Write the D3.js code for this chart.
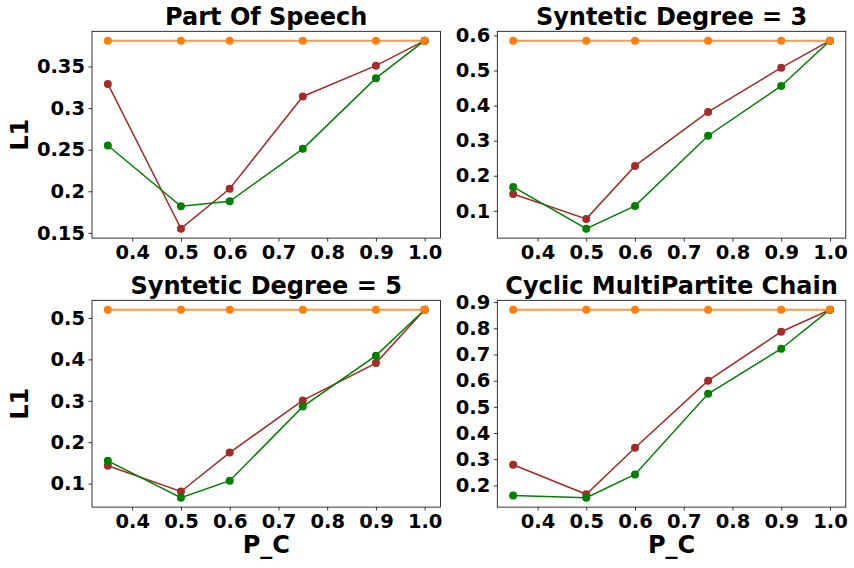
<!DOCTYPE html>
<html>
<head>
<meta charset="utf-8">
<script src="https://cdn.jsdelivr.net/npm/d3@7"></script>
<style>
  body { margin: 0; background: #fff; }
  text { font-family: "DejaVu Sans", sans-serif; font-weight: bold; }
</style>
</head>
<body>
<div id="chart"></div>
<script>
// Data

// Shared x values (P_C)
var pcValues = [0.35, 0.5, 0.6, 0.75, 0.9, 1.0];
var xTickValues = [0.4, 0.5, 0.6, 0.7, 0.8, 0.9, 1.0];
var xTickLabels = ["0.4", "0.5", "0.6", "0.7", "0.8", "0.9", "1.0"];

// Panel titles
var panelTitles = ["Part Of Speech", "Syntetic Degree = 3", "Syntetic Degree = 5", "Cyclic MultiPartite Chain"];

// Series per panel
var brownSeries = [
    [0.329, 0.155, 0.203, 0.314, 0.351, 0.381],
    [0.148, 0.077, 0.228, 0.382, 0.508, 0.585],
    [0.143, 0.081, 0.175, 0.301, 0.391, 0.520],
    [0.279, 0.166, 0.344, 0.600, 0.787, 0.871]
];
var greenSeries = [
    [0.255, 0.182, 0.188, 0.251, 0.336, 0.381],
    [0.168, 0.049, 0.114, 0.314, 0.456, 0.585],
    [0.155, 0.066, 0.107, 0.286, 0.409, 0.520],
    [0.161, 0.153, 0.242, 0.550, 0.722, 0.871]
];
var orangeSeries = [
    [0.381, 0.381, 0.381, 0.381, 0.381, 0.381],
    [0.585, 0.585, 0.585, 0.585, 0.585, 0.585],
    [0.520, 0.520, 0.520, 0.520, 0.520, 0.520],
    [0.871, 0.871, 0.871, 0.871, 0.871, 0.871]
];

// Y tick values and labels per panel
var yTickValues = [
    [0.15, 0.2, 0.25, 0.3, 0.35],
    [0.1, 0.2, 0.3, 0.4, 0.5, 0.6],
    [0.1, 0.2, 0.3, 0.4, 0.5],
    [0.2, 0.3, 0.4, 0.5, 0.6, 0.7, 0.8, 0.9]
];
var yTickLabels = [
    ["0.15", "0.2", "0.25", "0.3", "0.35"],
    ["0.1", "0.2", "0.3", "0.4", "0.5", "0.6"],
    ["0.1", "0.2", "0.3", "0.4", "0.5"],
    ["0.2", "0.3", "0.4", "0.5", "0.6", "0.7", "0.8", "0.9"]
];

// LAYOUT
var width = 854;
var height = 568;
var colLeft = [92, 497.3];
var rowTop = [31.3, 300.3];
var plotW = 348.5;
var plotH = 206.8;

var colors = { brown: "#a52a2a", green: "#008000", orange: "#ff7f0e" };

var svg = d3.select("#chart")
    .append("svg")
    .attr("width", width)
    .attr("height", height);

// Pad a domain by 5% each side, like matplotlib's autoscale
function padded(lo, hi) {
    var m = (hi - lo) * 0.05;
    return [lo - m, hi + m];
}

panelTitles.forEach(function(title, i) {
    var col = i % 2;
    var row = Math.floor(i / 2);
    var g = svg.append("g")
        .attr("transform", "translate(" + colLeft[col] + "," + rowTop[row] + ")");

    var allY = brownSeries[i].concat(greenSeries[i], orangeSeries[i]);
    var xScale = d3.scaleLinear()
        .domain(padded(d3.min(pcValues), d3.max(pcValues)))
        .range([0, plotW]);
    var yScale = d3.scaleLinear()
        .domain(padded(d3.min(allY), d3.max(allY)))
        .range([plotH, 0]);

    // Axes
    var xAxis = d3.axisBottom(xScale)
        .tickValues(xTickValues)
        .tickFormat(function(d, k) { return xTickLabels[k]; })
        .tickSize(3.5)
        .tickPadding(3.5);
    var yAxis = d3.axisLeft(yScale)
        .tickValues(yTickValues[i])
        .tickFormat(function(d, k) { return yTickLabels[i][k]; })
        .tickSize(3.5)
        .tickPadding(3.5);

    var gx = g.append("g")
        .attr("transform", "translate(0," + plotH + ")")
        .call(xAxis);
    var gy = g.append("g").call(yAxis);
    [gx, gy].forEach(function(a) {
        a.select(".domain").remove();
        a.selectAll("line").attr("stroke", "#000").attr("stroke-width", 0.8);
        a.selectAll("text")
            .attr("fill", "#000")
            .style("font-size", "19.5px")
            .style("font-weight", "bold");
    });

    // Frame
    g.append("rect")
        .attr("width", plotW)
        .attr("height", plotH)
        .attr("fill", "none")
        .attr("stroke", "#000")
        .attr("stroke-width", 0.8);

    // Lines and markers
    var line = d3.line()
        .x(function(d, k) { return xScale(pcValues[k]); })
        .y(function(d) { return yScale(d); });

    var series = [
        { values: brownSeries[i], color: colors.brown, w: 1.5, op: 1 },
        { values: greenSeries[i], color: colors.green, w: 1.5, op: 1 },
        { values: orangeSeries[i], color: colors.orange, w: 2, op: 0.8 }
    ];
    series.forEach(function(s) {
        g.append("path")
            .datum(s.values)
            .attr("d", line)
            .attr("fill", "none")
            .attr("stroke", s.color)
            .attr("stroke-opacity", s.op)
            .attr("stroke-width", s.w);
        g.selectAll(null)
            .data(s.values)
            .enter()
            .append("circle")
            .attr("cx", function(d, k) { return xScale(pcValues[k]); })
            .attr("cy", function(d) { return yScale(d); })
            .attr("r", 4)
            .attr("fill", s.color);
    });

    // Title
    g.append("text")
        .attr("x", plotW / 2)
        .attr("y", -6)
        .attr("text-anchor", "middle")
        .style("font-size", "24px")
        .text(title);

    // Axis labels
    if (col === 0) {
        g.append("text")
            .attr("transform", "translate(-64," + (plotH / 2) + ")rotate(-90)")
            .attr("text-anchor", "middle")
            .style("font-size", "24px")
            .text("L1");
    }
    if (row === 1) {
        g.append("text")
            .attr("x", plotW / 2)
            .attr("y", plotH + 46)
            .attr("text-anchor", "middle")
            .style("font-size", "24px")
            .text("P_C");
    }
});
</script>
</body>
</html>
